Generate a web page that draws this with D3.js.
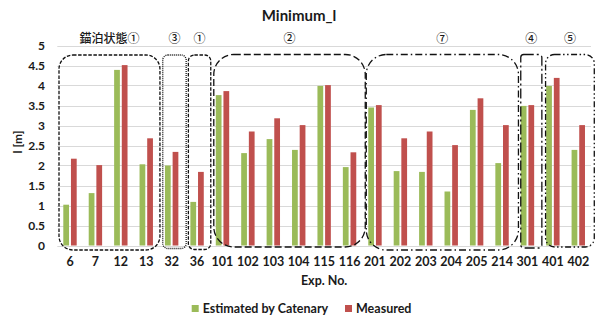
<!DOCTYPE html>
<html>
<head>
<meta charset="utf-8">
<script src="https://cdn.jsdelivr.net/npm/d3@7"></script>
<style>
  html, body { margin: 0; padding: 0; background: #fff; }
  svg { display: block; }
  text { font-family: Lato, "Noto Sans", sans-serif; font-weight: bold; fill: #1a1a1a; }
  .cjk { font-family: "Noto Sans CJK JP", sans-serif; font-weight: 500; }
</style>
</head>
<body>
<svg id="chart" width="600" height="324"></svg>
<script>
// Minimum line length per experiment
const categories = ["6","7","12","13","32","36","101","102","103","104","115","116","201","202","203","204","205","214","301","401","402"];
const estimated  = [1.02,1.31,4.39,2.03,2.00,1.09,3.76,2.31,2.66,2.39,3.99,1.96,3.45,1.86,1.84,1.35,3.39,2.06,3.49,3.99,2.39];
const measured   = [2.17,2.01,4.51,2.68,2.34,1.84,3.86,2.85,3.18,3.01,4.01,2.33,3.51,2.68,2.85,2.51,3.68,3.01,3.51,4.19,3.01];
const seriesNames = ["Estimated by Catenary", "Measured"];
const yTicks = [0,0.5,1,1.5,2,2.5,3,3.5,4,4.5,5];

// Condition groups (first / last experiment in each)
const groupLabels = ["錨泊状態①","③","①","②","⑦","④","⑤"];
const groupFirst  = ["6","32","36","101","201","301","401"];
const groupLast   = ["13","32","36","116","214","301","402"];

// Drawing styles for the group outlines
const boxStyles = [
  {dash:"3.5,1.6",            r:14, padL:4.3, padR:7,   top:55,   bottom:250},
  {dash:"1,1",                r:5,  padL:2.2, padR:7.8, top:55,   bottom:248.5},
  {dash:"3.5,1.6",            r:6,  padL:2,   padR:7,   top:55,   bottom:249.5},
  {dash:"7,3",                r:20, padL:2,   padR:9,   top:54.5, bottom:247},
  {dash:"7,3,1.5,3",          r:20, padL:2,   padR:9.7, top:54.5, bottom:250},
  {dash:"10,3,2,3",           r:3,  padL:0,   padR:7.7, top:54.5, bottom:248},
  {dash:"6,2.5,1.5,2.5,1.5,2.5", r:9, padL:0.6, padR:9.3, top:54.5, bottom:247}
];

const colors = ["#9BBB59", "#C0504D"];

const svg = d3.select("#chart");
const plot = {left: 57.3, right: 591, top: 45.5, bottom: 245.5};

const x = d3.scaleBand().domain(categories).range([plot.left, plot.right]).padding(0);
const x1 = d3.scaleBand().domain(seriesNames).range([6, 19.4]).paddingInner(0.25).paddingOuter(0);
const y = d3.scaleLinear().domain([0, 5]).range([plot.bottom, plot.top]);

// Gridlines
svg.append("g").selectAll("line").data(yTicks).join("line")
  .attr("x1", plot.left).attr("x2", plot.right)
  .attr("y1", d => Math.round(y(d)) + 0.5).attr("y2", d => Math.round(y(d)) + 0.5)
  .attr("stroke", "#d9d9d9").attr("stroke-width", 1);

// Y axis labels
const yAxis = d3.axisLeft(y).tickValues(yTicks).tickSize(0).tickPadding(0).tickFormat(d3.format("~g"));
svg.append("g").attr("transform", "translate(45,0)").call(yAxis)
  .call(g => g.select(".domain").remove())
  .selectAll("text").attr("font-size", 12).attr("fill", "#1a1a1a")
  .style("font-family", "Lato, sans-serif").style("font-weight", "bold");

// X axis labels
const xAxis = d3.axisBottom(x).tickSize(0).tickPadding(0);
svg.append("g").attr("transform", "translate(0,257.5)").call(xAxis)
  .call(g => g.select(".domain").remove())
  .selectAll("text").attr("font-size", 12.5).attr("fill", "#1a1a1a")
  .style("font-family", "Lato, sans-serif").style("font-weight", "bold");

// Bars
const rows = categories.map((c, i) => ({cat: c, vals: [estimated[i], measured[i]]}));
const grp = svg.append("g").selectAll("g").data(rows).join("g")
  .attr("transform", d => `translate(${x(d.cat)},0)`);
grp.selectAll("rect").data(d => d.vals.map((v, k) => ({k, v}))).join("rect")
  .attr("x", d => x1(seriesNames[d.k]))
  .attr("width", x1.bandwidth())
  .attr("y", d => y(d.v))
  .attr("height", d => y(0) - y(d.v))
  .attr("fill", d => colors[d.k]);

// Group outlines and labels
const gb = svg.append("g");
groupLabels.forEach((lab, i) => {
  const s = boxStyles[i];
  const x0 = x(groupFirst[i]) + x1.range()[0] - s.padL;
  const xEnd = x(groupLast[i]) + x1.range()[1] + s.padR;
  gb.append("rect")
    .attr("x", x0).attr("y", s.top)
    .attr("width", xEnd - x0).attr("height", s.bottom - s.top)
    .attr("rx", s.r).attr("ry", s.r)
    .attr("fill", "none").attr("stroke", "#111").attr("stroke-width", 1.3)
    .attr("stroke-dasharray", s.dash);
  gb.append("text")
    .attr("class", "cjk")
    .attr("x", (x0 + xEnd) / 2).attr("y", 43)
    .attr("text-anchor", "middle").attr("font-size", 12)
    .text(lab);
});

// Title
svg.append("text").attr("x", 299).attr("y", 21).attr("text-anchor", "middle")
  .attr("font-size", 15).text("Minimum_l");

// Axis titles
svg.append("text").attr("x", (plot.left + plot.right) / 2).attr("y", 285)
  .attr("text-anchor", "middle").attr("font-size", 12.5).text("Exp. No.");
svg.append("text").attr("transform", "translate(22,142) rotate(-90)")
  .attr("text-anchor", "middle").attr("font-size", 12).text("l [m]");

// Legend
const legendX = [191.7, 345];
const lg = svg.append("g");
seriesNames.forEach((n, i) => {
  lg.append("rect").attr("x", legendX[i]).attr("y", 305).attr("width", 7).attr("height", 7).attr("fill", colors[i]);
  lg.append("text").attr("x", legendX[i] + 11).attr("y", 312.5).attr("font-size", 12.5).text(n);
});
</script>
</body>
</html>
